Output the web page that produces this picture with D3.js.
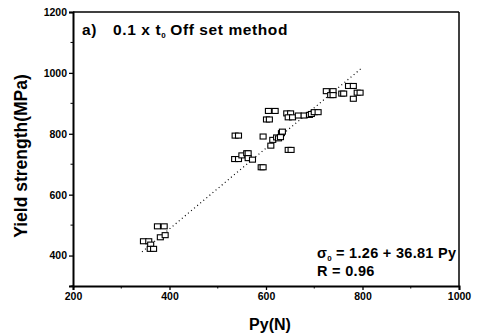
<!DOCTYPE html>
<html>
<head>
<meta charset="utf-8">
<script src="https://cdn.jsdelivr.net/npm/d3@7"></script>
<style>
  body { margin: 0; background: #fff; }
  svg text { font-family: "Liberation Sans", Arial, sans-serif; fill: #000; }
</style>
</head>
<body>
<div id="chart"></div>
<script>
// Chart size
var width = 478;
var height = 335;
var margin = { top: 12, right: 19, bottom: 49, left: 73 };

// Data: Py (N) and yield strength (MPa)
var pyValues = [346, 357, 361, 360, 367, 375, 389, 381, 391,
  536, 543, 535, 543, 550, 560, 563, 563, 572, 590, 594, 594,
  601, 607, 605, 619, 610, 614, 622, 626, 632, 634, 630, 646, 652,
  643, 651, 646, 655, 667, 679, 690, 694, 700, 708,
  725, 739, 734, 739, 757, 761, 771, 781, 781, 789, 795];
var yieldValues = [447, 447, 436, 422, 422, 496, 496, 460, 467,
  794, 794, 717, 717, 729, 736, 736, 720, 715, 690, 690, 791,
  847, 847, 875, 875, 761, 780, 788, 785, 802, 807, 789, 747, 747,
  867, 867, 854, 854, 860, 860, 862, 865, 871, 871,
  940, 940, 927, 927, 932, 932, 957, 957, 915, 935, 935];

// Linear fit drawn as a dotted line
var fitPy = [343, 800];
var fitYield = [412, 1018];

// Axis ticks
var xTicks = [200, 400, 600, 800, 1000];
var xMinor = [300, 500, 700, 900];
var yTicks = [400, 600, 800, 1000, 1200];
var yMinor = [300, 500, 700, 900, 1100];

var svg = d3.select("#chart")
  .append("svg")
  .attr("width", width)
  .attr("height", height);

var xScale = d3.scaleLinear()
  .domain([200, 1000])
  .range([margin.left, width - margin.right]);

var yScale = d3.scaleLinear()
  .domain([300, 1200])
  .range([height - margin.bottom, margin.top]);

var x0 = xScale(200), x1 = xScale(1000);
var y0 = yScale(300), y1 = yScale(1200);

// Frame: top and right thinner
svg.append("line").attr("x1", x0).attr("x2", x1).attr("y1", y1).attr("y2", y1)
  .attr("stroke", "#000").attr("stroke-width", 1.5);
svg.append("line").attr("x1", x1).attr("x2", x1).attr("y1", y1).attr("y2", y0)
  .attr("stroke", "#000").attr("stroke-width", 1.5);

// Bottom axis
var xAxis = svg.append("g")
  .attr("transform", "translate(0," + y0 + ")")
  .call(d3.axisBottom(xScale).tickValues(xTicks).tickFormat(d3.format("d")).tickSize(4).tickPadding(3));
xAxis.select(".domain").attr("stroke-width", 2);
xAxis.selectAll(".tick line").attr("stroke-width", 1.3);
xAxis.selectAll("text")
  .style("font-size", "10.5px")
  .style("font-weight", "bold")
  .style("font-family", "'Liberation Sans', Arial, sans-serif");
xAxis.selectAll(".minor")
  .data(xMinor).enter().append("line")
  .attr("x1", function (d) { return xScale(d); })
  .attr("x2", function (d) { return xScale(d); })
  .attr("y1", 0).attr("y2", 2.5)
  .attr("stroke", "#000");

// Left axis
var yAxis = svg.append("g")
  .attr("transform", "translate(" + x0 + ",0)")
  .call(d3.axisLeft(yScale).tickValues(yTicks).tickFormat(d3.format("d")).tickSize(4).tickPadding(2));
yAxis.select(".domain").attr("stroke-width", 2);
yAxis.selectAll(".tick line").attr("stroke-width", 1.3);
yAxis.selectAll("text")
  .style("font-size", "10.5px")
  .style("font-weight", "bold")
  .style("font-family", "'Liberation Sans', Arial, sans-serif");
yAxis.selectAll(".minor")
  .data(yMinor).enter().append("line")
  .attr("y1", function (d) { return yScale(d); })
  .attr("y2", function (d) { return yScale(d); })
  .attr("x1", 0).attr("x2", -2.5)
  .attr("stroke", "#000");

// Fit line (dotted)
svg.append("line")
  .attr("x1", xScale(fitPy[0])).attr("y1", yScale(fitYield[0]))
  .attr("x2", xScale(fitPy[1])).attr("y2", yScale(fitYield[1]))
  .attr("stroke", "#000")
  .attr("stroke-width", 1.2)
  .attr("stroke-dasharray", "1,3");

// Open square markers
svg.selectAll(".pt")
  .data(pyValues)
  .enter().append("rect")
  .attr("class", "pt")
  .attr("x", function (d) { return xScale(d) - 3; })
  .attr("y", function (d, i) { return yScale(yieldValues[i]) - 2.5; })
  .attr("width", 6)
  .attr("height", 5)
  .attr("fill", "#fff")
  .attr("stroke", "#000")
  .attr("stroke-width", 1.1);

// Panel title
var title = svg.append("text")
  .attr("x", 82)
  .attr("y", 35)
  .style("font-size", "15.5px")
  .style("font-weight", "bold")
  .style("letter-spacing", "0.6px");
title.append("tspan").text("a)");
title.append("tspan").attr("x", 113).text("0.1 x t");
title.append("tspan").attr("dy", 3).style("font-size", "8px").text("0");
title.append("tspan").attr("dy", -3).attr("dx", 4).text("Off set method");

// Fit equation
var eq = svg.append("text")
  .attr("x", 317)
  .attr("y", 258)
  .style("font-size", "14.5px")
  .style("font-weight", "bold")
  .style("letter-spacing", "0.3px");
eq.append("tspan").text("\u03c3");
eq.append("tspan").attr("dy", 3).style("font-size", "8px").text("0");
eq.append("tspan").attr("dy", -3).attr("dx", 4).text("= 1.26 + 36.81 Py");

svg.append("text")
  .attr("x", 317)
  .attr("y", 276)
  .style("font-size", "14.5px")
  .style("font-weight", "bold")
  .style("letter-spacing", "0.3px")
  .text("R = 0.96");

// Axis titles
svg.append("text")
  .attr("x", 270)
  .attr("y", 330)
  .attr("text-anchor", "middle")
  .style("font-size", "16px")
  .style("font-weight", "bold")
  .text("Py(N)");

svg.append("text")
  .attr("transform", "translate(27,156) rotate(-90)")
  .attr("text-anchor", "middle")
  .style("font-size", "17.5px")
  .style("font-weight", "bold")
  .text("Yield strength(MPa)");
</script>
</body>
</html>
